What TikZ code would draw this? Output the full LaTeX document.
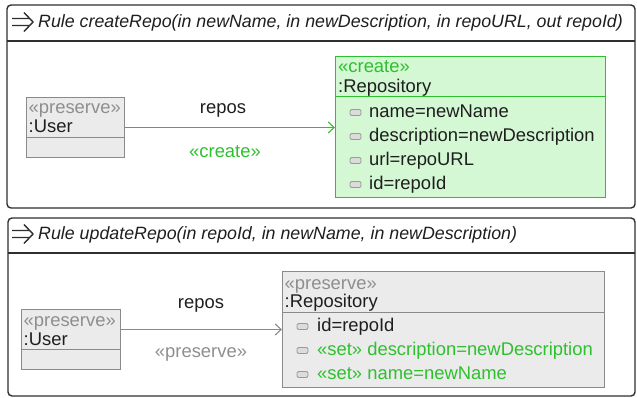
\documentclass[tikz,border=0pt]{standalone}
\usepackage{fontspec}
\setmainfont{Liberation Sans}
\usetikzlibrary{arrows.meta}
\definecolor{grn}{HTML}{2EC02E}
\definecolor{grnfill}{HTML}{D4F7D4}
\definecolor{gfill}{HTML}{EBEBEB}
\definecolor{gline}{HTML}{8A8A8A}
\definecolor{gtext}{HTML}{8E8E8E}
\definecolor{frm}{HTML}{2E2E2E}
\definecolor{txtc}{HTML}{1E1E1E}
\definecolor{iconline}{HTML}{9A9A9A}
\definecolor{iconfill}{HTML}{DCDCDC}
\begin{document}
\begin{tikzpicture}[x=1pt,y=-1pt,
  txt/.style={inner sep=0pt, text=txtc, font=\fontsize{18.4}{20}\selectfont, text height=13.5pt, text depth=3.5pt},
  ttl/.style={txt, font=\fontsize{17.8}{20}\selectfont\itshape},
  frameline/.style={draw=frm, line width=1.4pt},
  gbox/.style={draw=gline, fill=gfill, line width=1pt, inner sep=0pt},
  grbox/.style={draw=grn, fill=grnfill, line width=1pt, inner sep=0pt},
  attricon/.style={draw=iconline, fill=iconfill, line width=0.9pt, rounded corners=2pt},
  conn/.style={line width=1.5pt, -{Straight Barb[length=6pt,width=11pt,line width=1.1pt]}},
  ruleicon/.style={draw=frm, line width=1.4pt}
]
\useasboundingbox (0,0) rectangle (637,397);
% ---------- frame 1 ----------
\draw[frameline, rounded corners=4pt] (7,5) rectangle (635,208);
\draw[frameline] (7,41) -- (635,41);
\draw[ruleicon] (12,18.5) -- (30,18.5) (12,25.5) -- (30,25.5) (24,12.5) -- (33,22) -- (24,31.5);
\node[ttl, anchor=west] (t1) at (38,22) {Rule createRepo(in newName, in newDescription, in repoURL, out repoId)};

\node[gbox, minimum width=98pt, minimum height=60pt, anchor=north west] (u1) at (26,97) {};
\draw[draw=gline, line width=1pt] (u1.west |- 0,137) -- (u1.east |- 0,137);
\node[txt, anchor=west, text=gtext] (u1s) at (28.5,108) {«preserve»};
\node[txt, anchor=west] (u1n) at (28.5,127.5) {:User};

\node[grbox, minimum width=270pt, minimum height=141pt, anchor=north west] (r1) at (335,56) {};
\draw[draw=grn, line width=1pt] (r1.west |- 0,96) -- (r1.east |- 0,96);
\node[txt, anchor=west, text=grn] (r1s) at (338,67.5) {«create»};
\node[txt, anchor=west] (r1n) at (338,87) {:Repository};
\draw[attricon] (350,109.5) rectangle (361,115.5);
\node[txt, anchor=west] (a11) at (369,112) {name=newName};
\draw[attricon] (350,133.5) rectangle (361,139.5);
\node[txt, anchor=west] (a12) at (369,136) {description=newDescription};
\draw[attricon] (350,157.5) rectangle (361,163.5);
\node[txt, anchor=west] (a13) at (369,160) {url=repoURL};
\draw[attricon] (350,181.5) rectangle (361,187.5);
\node[txt, anchor=west] (a14) at (369,184) {id=repoId};

\draw[conn, draw=grn, color=grn] (u1.east) -- (u1.east -| r1.west);
\node[txt] (l1a) at (223,108) {repos};
\node[txt, text=grn] (l1b) at (225,152) {«create»};

% ---------- frame 2 ----------
\draw[frameline, rounded corners=4pt] (8,218) rectangle (635,396);
\draw[frameline] (8,253) -- (635,253);
\draw[ruleicon] (12,230.5) -- (30,230.5) (12,237.5) -- (30,237.5) (24,224.5) -- (33,234) -- (24,243.5);
\node[ttl, anchor=west] (t2) at (38,234) {Rule updateRepo(in repoId, in newName, in newDescription)};

\node[gbox, minimum width=99pt, minimum height=60pt, anchor=north west] (u2) at (21,309) {};
\draw[draw=gline, line width=1pt] (u2.west |- 0,349) -- (u2.east |- 0,349);
\node[txt, anchor=west, text=gtext] (u2s) at (23.5,321) {«preserve»};
\node[txt, anchor=west] (u2n) at (23.5,340) {:User};

\node[gbox, minimum width=322pt, minimum height=116pt, anchor=north west] (r2) at (282,271) {};
\draw[draw=gline, line width=1pt] (r2.west |- 0,312) -- (r2.east |- 0,312);
\node[txt, anchor=west, text=gtext] (r2s) at (284.5,284) {«preserve»};
\node[txt, anchor=west] (r2n) at (284.5,302) {:Repository};
\draw[attricon] (297,323.5) rectangle (308,329.5);
\node[txt, anchor=west] (a21) at (317,326) {id=repoId};
\draw[attricon] (297,347.5) rectangle (308,353.5);
\node[txt, anchor=west, text=grn] (a22) at (317,350) {«set» description=newDescription};
\draw[attricon] (297,371.5) rectangle (308,377.5);
\node[txt, anchor=west, text=grn] (a23) at (317,374) {«set» name=newName};

\draw[conn, color=gline, line width=1.2pt] (u2.east |- r2.west) -- (r2.west);
\node[txt] (l2a) at (201,303) {repos};
\node[txt, text=gtext] (l2b) at (201,352) {«preserve»};
\end{tikzpicture}
\end{document}
